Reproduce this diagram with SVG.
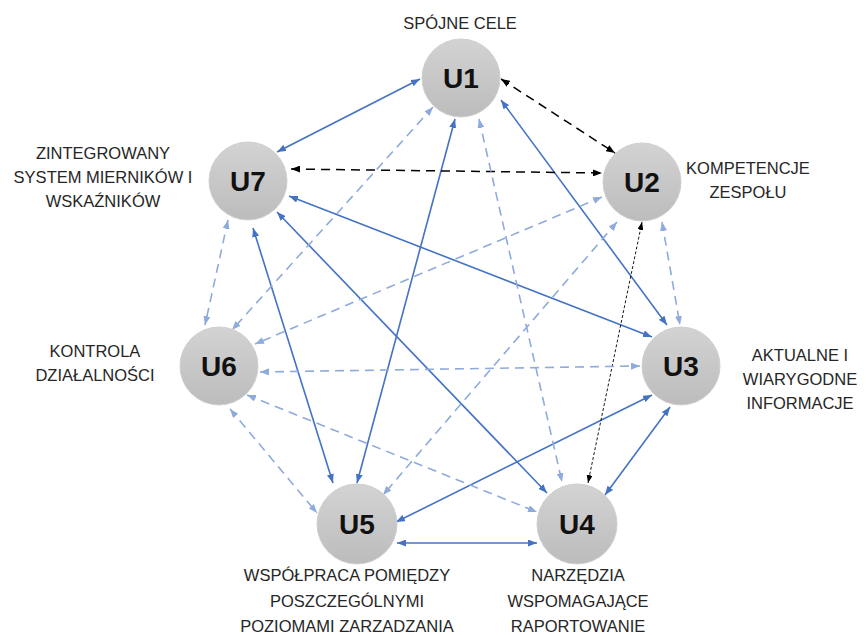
<svg xmlns="http://www.w3.org/2000/svg" width="866" height="635" viewBox="0 0 866 635">
<style>
.lbl{font-family:"Liberation Sans","Open Sans",sans-serif;font-size:16.5px;fill:#262626;text-anchor:middle}
.nt{font-family:"Liberation Sans","Open Sans",sans-serif;font-size:28px;font-weight:bold;fill:#111;text-anchor:middle}
.node circle{fill:url(#g);stroke:#cfcfcf;stroke-width:1}
.s{stroke:#4472C4;stroke-width:1.6;fill:none;marker-start:url(#ab);marker-end:url(#ab)}
.l{stroke:#8FAADC;stroke-width:1.6;fill:none;stroke-dasharray:9 6;marker-start:url(#al);marker-end:url(#al)}
.k{stroke:#000;stroke-width:1.5;fill:none;stroke-dasharray:9 6;marker-start:url(#ak);marker-end:url(#ak)}
.d{stroke:#000;stroke-width:0.9;fill:none;stroke-dasharray:3 2;marker-start:url(#ak2);marker-end:url(#ak2)}
</style>
<defs>
<linearGradient id="g" x1="0" y1="0" x2="0" y2="1">
<stop offset="0" stop-color="#d3d3d3"/>
<stop offset="1" stop-color="#bcbcbc"/>
</linearGradient>
<marker id="ab" viewBox="0 0 9 7" refX="9" refY="3.5" markerWidth="9" markerHeight="7" markerUnits="userSpaceOnUse" orient="auto-start-reverse"><path d="M0,0 L9,3.5 L0,7 z" fill="#4472C4"/></marker>
<marker id="al" viewBox="0 0 9 7" refX="9" refY="3.5" markerWidth="9" markerHeight="7" markerUnits="userSpaceOnUse" orient="auto-start-reverse"><path d="M0,0 L9,3.5 L0,7 z" fill="#8FAADC"/></marker>
<marker id="ak" viewBox="0 0 9 7" refX="9" refY="3.5" markerWidth="9" markerHeight="7" markerUnits="userSpaceOnUse" orient="auto-start-reverse"><path d="M0,0 L9,3.5 L0,7 z" fill="#000"/></marker>
<marker id="ak2" viewBox="0 0 8 6" refX="8" refY="3" markerWidth="8" markerHeight="6" markerUnits="userSpaceOnUse" orient="auto-start-reverse"><path d="M0,0 L8,3 L0,6 z" fill="#000"/></marker>
</defs>
<rect width="866" height="635" fill="#fff"/>
<g id="connectors">
<line class="s" x1="420" y1="79" x2="277" y2="152"/>
<line class="s" x1="455" y1="119" x2="357" y2="483"/>
<line class="s" x1="501" y1="100" x2="667" y2="325"/>
<line class="s" x1="289" y1="196" x2="652" y2="337"/>
<line class="s" x1="277" y1="212" x2="547" y2="493"/>
<line class="s" x1="253" y1="228" x2="333" y2="483"/>
<line class="s" x1="652" y1="395" x2="396" y2="522"/>
<line class="s" x1="670" y1="407" x2="605" y2="495"/>
<line class="s" x1="397" y1="543" x2="537" y2="543"/>
<line class="k" x1="501" y1="79" x2="615" y2="153"/>
<line class="k" x1="291" y1="169" x2="602" y2="173"/>
<line class="d" x1="642" y1="222" x2="588" y2="483"/>
<line class="l" x1="433" y1="107" x2="232" y2="330"/>
<line class="l" x1="479" y1="119" x2="562" y2="482"/>
<line class="l" x1="602" y1="197" x2="255" y2="344"/>
<line class="l" x1="617" y1="222" x2="383" y2="495"/>
<line class="l" x1="662" y1="222" x2="680" y2="325"/>
<line class="l" x1="228" y1="220" x2="205" y2="325"/>
<line class="l" x1="260" y1="372" x2="640" y2="366"/>
<line class="l" x1="247" y1="395" x2="537" y2="512"/>
<line class="l" x1="230" y1="409" x2="317" y2="513"/>
</g>
<g id="U1" class="node"><circle cx="461" cy="78" r="39"/><text class="nt" x="461" y="88">U1</text></g>
<g id="U2" class="node"><circle cx="642" cy="182" r="39"/><text class="nt" x="642" y="192">U2</text></g>
<g id="U3" class="node"><circle cx="681" cy="366" r="39"/><text class="nt" x="681" y="376">U3</text></g>
<g id="U4" class="node"><circle cx="577" cy="524" r="40"/><text class="nt" x="577" y="534">U4</text></g>
<g id="U5" class="node"><circle cx="357" cy="524" r="40"/><text class="nt" x="357" y="534">U5</text></g>
<g id="U6" class="node"><circle cx="219" cy="366" r="39"/><text class="nt" x="219" y="376">U6</text></g>
<g id="U7" class="node"><circle cx="248" cy="181" r="39"/><text class="nt" x="248" y="191">U7</text></g>
<g id="labels">
<text class="lbl" x="460" y="29">SPÓJNE CELE</text>
<text class="lbl" x="748" y="174">KOMPETENCJE</text>
<text class="lbl" x="748" y="198">ZESPOŁU</text>
<text class="lbl" x="800" y="361">AKTUALNE I</text>
<text class="lbl" x="800" y="385">WIARYGODNE</text>
<text class="lbl" x="800" y="409">INFORMACJE</text>
<text class="lbl" x="578" y="581">NARZĘDZIA</text>
<text class="lbl" x="578" y="607">WSPOMAGAJĄCE</text>
<text class="lbl" x="578" y="632">RAPORTOWANIE</text>
<text class="lbl" x="347" y="581">WSPÓŁPRACA POMIĘDZY</text>
<text class="lbl" x="347" y="607">POSZCZEGÓLNYMI</text>
<text class="lbl" x="347" y="632">POZIOMAMI ZARZADZANIA</text>
<text class="lbl" x="95" y="357">KONTROLA</text>
<text class="lbl" x="95" y="381">DZIAŁALNOŚCI</text>
<text class="lbl" x="103" y="159">ZINTEGROWANY</text>
<text class="lbl" x="103" y="183">SYSTEM MIERNIKÓW I</text>
<text class="lbl" x="103" y="207">WSKAŹNIKÓW</text>
</g>
</svg>
